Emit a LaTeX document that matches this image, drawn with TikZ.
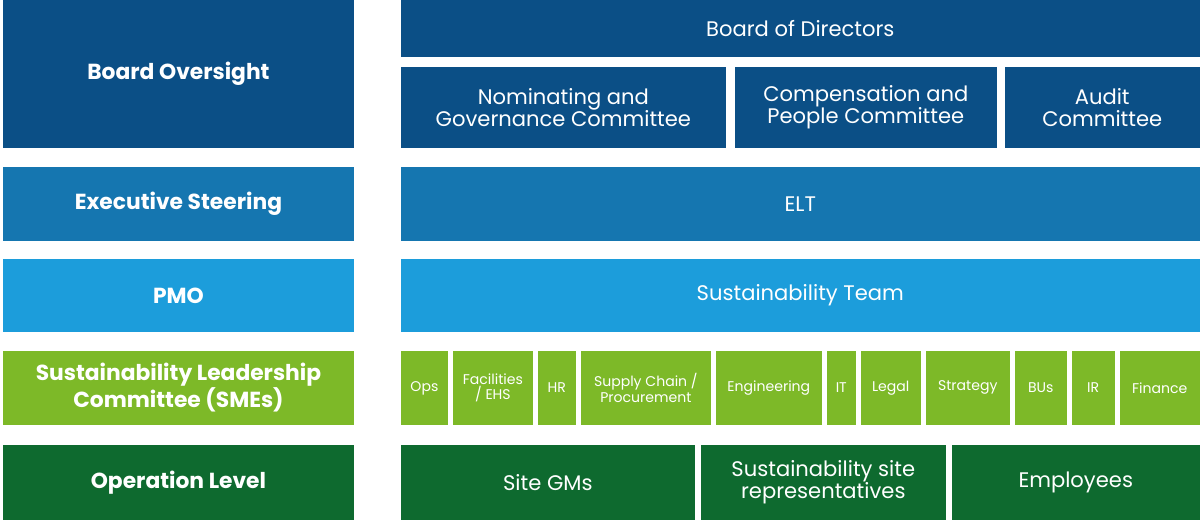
\documentclass[tikz,border=0pt]{standalone}
\usepackage{fontspec}
\setmainfont{Poppins}
\definecolor{boardblue}{HTML}{0B4F86}
\definecolor{execblue}{HTML}{1576B0}
\definecolor{pmoblue}{HTML}{1C9DDB}
\definecolor{smegreen}{HTML}{7DB928}
\definecolor{opgreen}{HTML}{0E6A2F}
\tikzset{
  blk/.style={inner sep=0pt, text=white, align=center, font=\fontsize{15}{15.5}\selectfont},
  tag/.style={blk, font=\bfseries\fontsize{15.5}{17}\selectfont},
  sme/.style={blk, font=\fontsize{10}{11}\selectfont}
}
% box from pixel corners (x1,y1) to (x2,y2)
\newcommand{\blkbox}[7][blk]{%
  \node[#1, fill=#6, minimum width={(#4-#2)*0.025cm}, minimum height={(#5-#3)*0.025cm}]
    (#7) at ({(#2+#4)/2*0.025},{-(#3+#5)/2*0.025}) }
\begin{document}
\begin{tikzpicture}
\useasboundingbox (0,0) rectangle (30,-13.1);

%left column
\blkbox[tag]{3}{0}{354}{148}{boardblue}{oversight} {Board Oversight};
\blkbox[tag]{3}{167}{354}{241}{execblue}{steering} {Executive Steering};
\blkbox[tag]{3}{259}{354}{332}{pmoblue}{pmo} {PMO};
\blkbox[tag]{3}{351}{354}{425}{smegreen}{slc} {Sustainability Leadership\\Committee (SMEs)};
\blkbox[tag]{3}{445}{354}{520}{opgreen}{oplevel} {Operation Level};

%board level
\blkbox{401}{0}{1200}{57}{boardblue}{board} {Board of Directors};
\blkbox{401}{67}{726}{148}{boardblue}{nomgov} {Nominating and\\Governance Committee};
\blkbox{735}{67}{997}{148}{boardblue}{comp} {Compensation and\\People Committee};
\blkbox{1005}{67}{1200}{148}{boardblue}{audit} {Audit\\Committee};

%executive and pmo
\blkbox{401}{167}{1200}{241}{execblue}{elt} {ELT};
\blkbox{401}{259}{1200}{332}{pmoblue}{team} {Sustainability Team};

%smes
\blkbox[sme]{401}{351}{448}{425}{smegreen}{ops} {Ops};
\blkbox[sme]{453}{351}{533}{425}{smegreen}{ehs} {Facilities\\/ EHS};
\blkbox[sme]{538}{351}{576}{425}{smegreen}{hr} {HR};
\blkbox[sme]{581}{351}{711}{425}{smegreen}{supply} {Supply Chain /\\Procurement};
\blkbox[sme]{716}{351}{822}{425}{smegreen}{eng} {Engineering};
\blkbox[sme]{827}{351}{856}{425}{smegreen}{it} {IT};
\blkbox[sme]{861}{351}{921}{425}{smegreen}{legal} {Legal};
\blkbox[sme]{926}{351}{1010}{425}{smegreen}{strategy} {Strategy};
\blkbox[sme]{1015}{351}{1067}{425}{smegreen}{bus} {BUs};
\blkbox[sme]{1072}{351}{1115}{425}{smegreen}{ir} {IR};
\blkbox[sme]{1120}{351}{1200}{425}{smegreen}{finance} {Finance};

%operation level
\blkbox{401}{445}{695}{520}{opgreen}{gms} {Site GMs};
\blkbox{701}{445}{946}{520}{opgreen}{reps} {Sustainability site\\representatives};
\blkbox{952}{445}{1200}{520}{opgreen}{staff} {Employees};

\end{tikzpicture}
\end{document}
